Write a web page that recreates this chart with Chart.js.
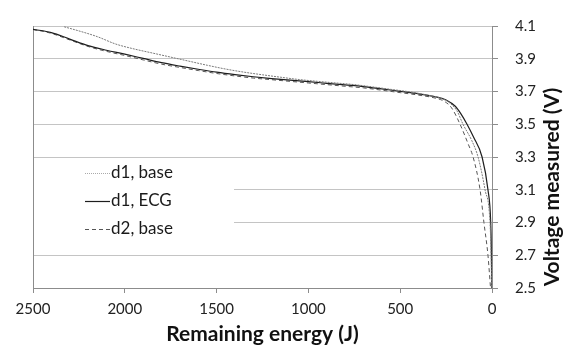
<!DOCTYPE html>
<html>
<head>
<meta charset="utf-8">
<script src="https://cdn.jsdelivr.net/npm/chart.js@4/dist/chart.umd.min.js"></script>
<style>
html, body { margin: 0; padding: 0; background: #fff; }
#wrap { width: 571px; height: 348px; }
</style>
</head>
<body>
<div id="wrap"><canvas id="voltChart" width="571" height="348"></canvas></div>
<script>
// remaining energy (J) / voltage (V)
var d1BaseEnergy = [2330, 2250, 2150, 2050, 1950, 1850, 1750, 1650, 1550, 1450, 1350, 1250, 1150, 1050, 950, 850, 750, 650, 550, 450, 350, 280, 230, 190, 158, 110, 76, 38, 11, 5, 2];
var d1BaseVolt = [4.095, 4.07, 4.035, 3.99, 3.96, 3.935, 3.91, 3.885, 3.86, 3.837, 3.818, 3.802, 3.787, 3.773, 3.762, 3.752, 3.742, 3.728, 3.713, 3.698, 3.678, 3.66, 3.63, 3.58, 3.5, 3.4, 3.3, 3.1, 2.9, 2.7, 2.5];

var d1EcgEnergy = [2500, 2400, 2300, 2200, 2100, 2000, 1900, 1800, 1700, 1600, 1500, 1400, 1300, 1200, 1100, 1000, 900, 800, 700, 600, 500, 400, 300, 250, 200, 170, 136, 100, 54, 22, 7, 3, 1];
var d1EcgVolt = [4.08, 4.06, 4.02, 3.98, 3.952, 3.928, 3.902, 3.876, 3.855, 3.836, 3.818, 3.803, 3.79, 3.779, 3.769, 3.76, 3.75, 3.74, 3.73, 3.716, 3.701, 3.686, 3.666, 3.648, 3.61, 3.565, 3.5, 3.42, 3.3, 3.1, 2.9, 2.7, 2.5];

var d2BaseEnergy = [2500, 2400, 2300, 2200, 2100, 2000, 1900, 1800, 1700, 1600, 1500, 1400, 1300, 1200, 1100, 1000, 900, 800, 700, 600, 500, 400, 300, 260, 220, 174, 130, 103, 65, 44, 22, 8];
var d2BaseVolt = [4.08, 4.055, 4.015, 3.975, 3.945, 3.92, 3.893, 3.867, 3.847, 3.828, 3.81, 3.795, 3.782, 3.772, 3.762, 3.752, 3.742, 3.732, 3.722, 3.708, 3.693, 3.678, 3.657, 3.64, 3.6, 3.5, 3.38, 3.3, 3.1, 2.9, 2.7, 2.5];

var seriesNames = ["d1, base", "d1, ECG", "d2, base"];
var energyTicks = [0, 500, 1000, 1500, 2000, 2500];
var voltTicks = [2.5, 2.7, 2.9, 3.1, 3.3, 3.5, 3.7, 3.9, 4.1];

var FONT = "Lato, 'Open Sans', sans-serif";

function toPoints(xs, ys) {
	var pts = [];
	for (var i = 0; i < xs.length; i++) {
		pts.push({ x: xs[i], y: ys[i] });
	}
	return pts;
}

var lineStyles = [
	{ color: "#7a7a7a", width: 1, dash: [2, 1] },
	{ color: "#1e1e1e", width: 1.2, dash: [] },
	{ color: "#555555", width: 1, dash: [4, 3] }
];

// legend box + right axis title, drawn by hand
var extras = {
	id: "extras",
	beforeDatasetsDraw: function(chart) {
		var ctx = chart.ctx;
		var area = chart.chartArea;
		ctx.save();
		ctx.fillStyle = "#fff";
		ctx.fillRect(area.left + 1, 158, 200, 86);
		// left border of plot
		ctx.strokeStyle = "#8c8c8c";
		ctx.lineWidth = 1;
		ctx.beginPath();
		ctx.moveTo(area.left + 0.5, area.top);
		ctx.lineTo(area.left + 0.5, area.bottom);
		ctx.stroke();

		var rows = [173, 201, 229];
		ctx.font = "17px " + FONT;
		ctx.textBaseline = "middle";
		ctx.fillStyle = "#1a1a1a";
		for (var i = 0; i < seriesNames.length; i++) {
			var st = lineStyles[i];
			ctx.strokeStyle = i == 0 ? "#aaaaaa" : st.color;
			ctx.lineWidth = st.width;
			ctx.setLineDash(i == 0 ? [1, 1] : st.dash);
			ctx.beginPath();
			ctx.moveTo(85, rows[i] + 0.5);
			ctx.lineTo(110, rows[i] + 0.5);
			ctx.stroke();
			ctx.setLineDash([]);
			ctx.fillText(seriesNames[i], 111, rows[i]);
		}
		ctx.restore();
	},
	afterDraw: function(chart) {
		var ctx = chart.ctx;
		ctx.save();
		ctx.translate(552, 187);
		ctx.rotate(-Math.PI / 2);
		ctx.font = "bold 21px " + FONT;
		ctx.fillStyle = "#111";
		ctx.textAlign = "center";
		ctx.textBaseline = "middle";
		ctx.fillText("Voltage measured (V)", 0, 0);
		ctx.restore();
	}
};

var datasets = [];
var allX = [d1BaseEnergy, d1EcgEnergy, d2BaseEnergy];
var allY = [d1BaseVolt, d1EcgVolt, d2BaseVolt];
for (var i = 0; i < seriesNames.length; i++) {
	datasets.push({
		label: seriesNames[i],
		data: toPoints(allX[i], allY[i]),
		borderColor: lineStyles[i].color,
		borderWidth: lineStyles[i].width,
		borderDash: lineStyles[i].dash,
		pointRadius: 0,
		fill: false,
		cubicInterpolationMode: "monotone"
	});
}

var ctx = document.getElementById("voltChart");
var voltChart = new Chart(ctx, {
	type: "line",
	data: { datasets: datasets },
	plugins: [extras],
	options: {
		responsive: false,
		animation: false,
		layout: { padding: { left: 33, top: 13, right: 0, bottom: 0 } },
		plugins: {
			legend: { display: false },
			tooltip: { enabled: false }
		},
		scales: {
			x: {
				type: "linear",
				reverse: true,
				min: energyTicks[0],
				max: energyTicks[energyTicks.length - 1],
				afterFit: function(scale) { scale.height = 60; },
				afterBuildTicks: function(scale) {
					scale.ticks = energyTicks.map(function(v) { return { value: v }; });
				},
				ticks: {
					font: { family: FONT, size: 15 },
					color: "#222",
					padding: 7,
					maxRotation: 0,
					callback: function(v) { return String(v); }
				},
				grid: { drawOnChartArea: false, drawTicks: true, tickLength: 5, color: "#8c8c8c" },
				border: { display: true, color: "#8c8c8c" },
				title: {
					display: true,
					text: "Remaining energy (J)",
					font: { family: FONT, size: 21, weight: "bold" },
					color: "#111",
					padding: { top: 0, bottom: 1 }
				}
			},
			y: {
				type: "linear",
				position: "right",
				min: voltTicks[0],
				max: voltTicks[voltTicks.length - 1],
				afterFit: function(scale) { scale.width = 79; },
				afterBuildTicks: function(scale) {
					scale.ticks = voltTicks.map(function(v) { return { value: v }; });
				},
				ticks: {
					font: { family: FONT, size: 15 },
					color: "#222",
					padding: 17,
					callback: function(v) { return Number(v).toFixed(1); }
				},
				grid: { color: "#c4c4c4", tickLength: 6, tickColor: "#8c8c8c" },
				border: { display: true, color: "#8c8c8c" }
			}
		}
	}
});
</script>
</body>
</html>
